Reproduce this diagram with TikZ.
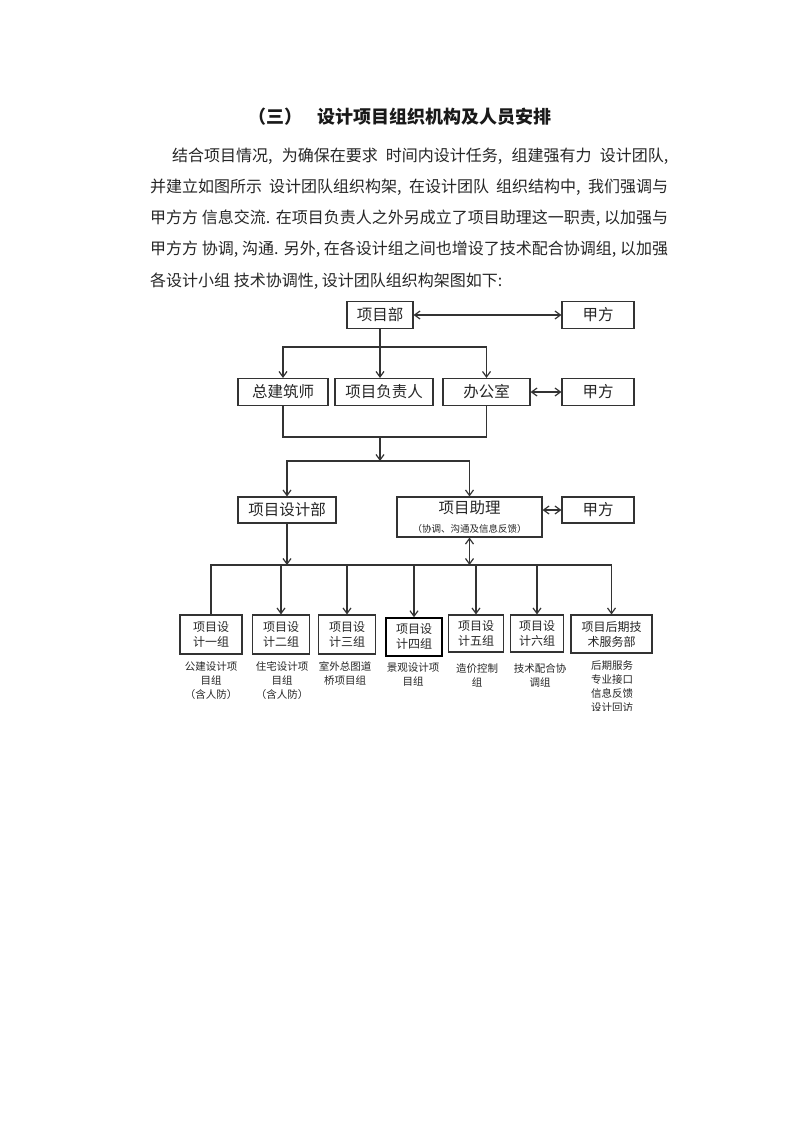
\documentclass[tikz,border=0pt]{standalone}
\usepackage{fontspec}
\setmainfont{Noto Sans CJK SC}
\XeTeXlinebreaklocale "zh"
\XeTeXlinebreakskip=0pt plus 1pt
\usetikzlibrary{arrows.meta, positioning, calc}

\tikzset{
  orgbox/.style={draw=black!80, line width=1.1pt, inner sep=0pt, align=center,
    minimum height=27pt, text=black!85, font=\fontsize{15.5}{18}\selectfont},
  groupbox/.style={orgbox, minimum height=39pt, font=\fontsize{12}{15}\selectfont},
  note/.style={align=center, inner sep=0pt, anchor=north, text=black!85,
    font=\fontsize{10.5}{14}\selectfont},
  para/.style={inner sep=0pt, anchor=west, text=black!85, font=\fontsize{16}{20}\selectfont},
  link/.style={draw=black!80, line width=1.2pt},
}

\begin{document}
\begin{tikzpicture}[x=1pt, y=-1pt, >={Straight Barb[length=5.5pt, width=8pt]}]

        \fill[white] (0,0) rectangle (800,1132);
        \useasboundingbox (0,0) rectangle (800,1132);

        % heading and text
        \node[inner sep=0pt, text=black!90, font=\bfseries\fontsize{18}{20}\selectfont] (title) at (400,117)
          {\hbox to 304pt{（三）\hfill 设计项目组织机构及人员安排}};
        \node[para] (p1) at (172,156) {\hbox to 496pt{结合项目情况, 为确保在要求 时间内设计任务, 组建强有力 设计团队,}};
        \node[para] (p2) at (150,187) {\hbox to 518pt{并建立如图所示 设计团队组织构架, 在设计团队 组织结构中, 我们强调与}};
        \node[para] (p3) at (150,218) {\hbox to 518pt{甲方方 信息交流. 在项目负责人之外另成立了项目助理这一职责, 以加强与}};
        \node[para] (p4) at (150,249) {\hbox to 518pt{甲方方 协调, 沟通. 另外, 在各设计组之间也增设了技术配合协调组, 以加强}};
        \node[para] (p5) at (150,281) {各设计小组 技术协调性, 设计团队组织构架图如下:};

        % top levels
        \node[orgbox, minimum width=66pt] (xmb) at (380,315) {项目部};
        \node[orgbox, minimum width=72pt] (jfa) at (598,315) {甲方};
        \node[orgbox, minimum width=90pt] (zjzs) at (283,392) {总建筑师};
        \node[orgbox, minimum width=98pt] (fzr) at (384,392) {项目负责人};
        \node[orgbox, minimum width=87pt] (bgs) at (486.5,392) {办公室};
        \node[orgbox, minimum width=72pt] (jfb) at (598,392) {甲方};
        \node[orgbox, minimum width=98pt, minimum height=26pt] (sjb) at (287,510) {项目设计部};
        \node[orgbox, minimum width=145pt, minimum height=40pt] (zl) at (469.5,517)
          {项目助理\\[1pt]{\fontsize{9.5}{11}\selectfont （协调、沟通及信息反馈）}};
        \node[orgbox, minimum width=72pt, minimum height=26pt] (jfc) at (598,510) {甲方};

        % design groups
        \node[groupbox, minimum width=62pt] (g1) at (211,634.5) {项目设\\计一组};
        \node[groupbox, minimum width=57pt] (g2) at (281,634.5) {项目设\\计二组};
        \node[groupbox, minimum width=57pt] (g3) at (347,634.5) {项目设\\计三组};
        \node[groupbox, minimum width=56pt, minimum height=38pt, draw=black, line width=1.5pt] (g4) at (414,637) {项目设\\计四组};
        \node[groupbox, minimum width=55pt, minimum height=37pt] (g5) at (476,633.5) {项目设\\计五组};
        \node[groupbox, minimum width=53pt, minimum height=37pt] (g6) at (537,633.5) {项目设\\计六组};
        \node[groupbox, minimum width=81pt, minimum height=38pt] (g7) at (611.5,634) {项目后期技\\术服务部};

        \node[note] (n1) at (211,661) {公建设计项\\目组\\（含人防）};
        \node[note] (n2) at (282,661) {住宅设计项\\目组\\（含人防）};
        \node[note] (n3) at (345,661) {室外总图道\\桥项目组};
        \node[note] (n4) at (413,663) {景观设计项\\目组};
        \node[note] (n5) at (477,663) {造价控制\\组};
        \node[note] (n6) at (540,663) {技术配合协\\调组};
        \begin{scope}
          \clip (560,655) rectangle (665,710);
          \node[note] (n7) at (612,660) {后期服务\\专业接口\\信息反馈\\设计回访};
        \end{scope}

        % connectors
        \coordinate (topbus) at (0,347);
        \coordinate (midbus) at (0,437);
        \coordinate (lowbus) at (0,461);
        \coordinate (bus) at (0,565);

        \draw[link, <->] (xmb) -- (jfa);
        \draw[link, ->] (xmb.south) -- (xmb.south |- fzr.north);
        \draw[link, ->] (xmb.south |- topbus) -| (zjzs.north);
        \draw[link, ->] (xmb.south |- topbus) -| (bgs.north);
        \draw[link, <->] (bgs) -- (jfb);

        \draw[link] (zjzs.south) -- (zjzs.south |- midbus) -- (bgs.south |- midbus) -- (bgs.south);
        \draw[link, ->] (xmb.south |- midbus) -- (xmb.south |- lowbus);
        \draw[link, ->] (xmb.south |- lowbus) -| (sjb.north);
        \draw[link, ->] (xmb.south |- lowbus) -| (zl.north);
        \draw[link, <->] (zl.east |- jfc.west) -- (jfc.west);

        \draw[link, ->] (sjb.south) -- (sjb.south |- bus);
        \draw[link, <->] (zl.south) -- (zl.south |- bus);
        \draw[link] (g1.north) -- (g1.north |- bus) -- (g7.north |- bus);
        \foreach \g in {g2, g3, g4, g5, g6, g7}
          \draw[link, ->] (\g.north |- bus) -- (\g.north);

\end{tikzpicture}
\end{document}
